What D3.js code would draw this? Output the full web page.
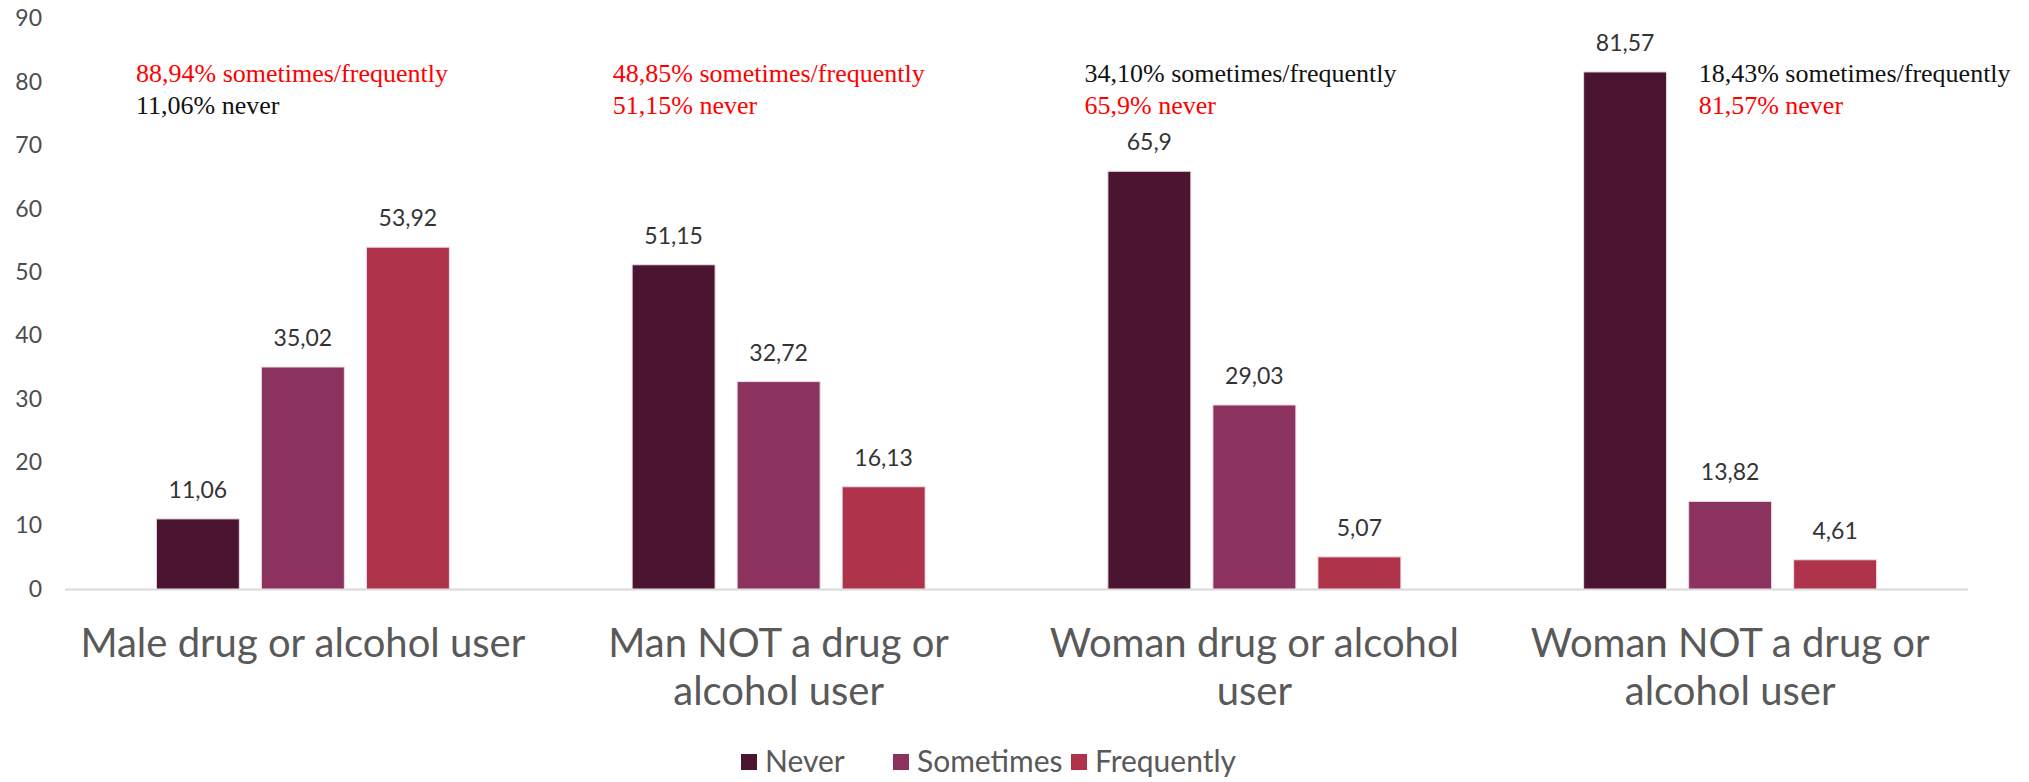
<!DOCTYPE html>
<html><head><meta charset="utf-8">
<script src="https://cdn.jsdelivr.net/npm/d3@7"></script>
<style>
html,body{margin:0;padding:0;background:#fff;}
svg{display:block;}
</style></head>
<body>
<svg id="chart" width="2029" height="782"></svg>
<script>
const categories = [
  ["Male drug or alcohol user"],
  ["Man NOT a drug or", "alcohol user"],
  ["Woman drug or alcohol", "user"],
  ["Woman NOT a drug or", "alcohol user"]
];
const series = ["Never", "Sometimes", "Frequently"];
const never = [11.06, 51.15, 65.9, 81.57];
const sometimes = [35.02, 32.72, 29.03, 13.82];
const frequently = [53.92, 16.13, 5.07, 4.61];
const valueLabels = [
  ["11,06", "35,02", "53,92"],
  ["51,15", "32,72", "16,13"],
  ["65,9", "29,03", "5,07"],
  ["81,57", "13,82", "4,61"]
];
const yTicks = [0, 10, 20, 30, 40, 50, 60, 70, 80, 90];
const notes = [
  [["88,94% sometimes/frequently", "red"], ["11,06% never", "black"]],
  [["48,85% sometimes/frequently", "red"], ["51,15% never", "red"]],
  [["34,10% sometimes/frequently", "black"], ["65,9% never", "red"]],
  [["18,43% sometimes/frequently", "black"], ["81,57% never", "red"]]
];
const colors = ["#4b1531", "#8c325f", "#af344b"];

(function () {
const svg = d3.select("#chart");
const mLeft = 65, mRight = 1968, base = 589, mTop = 18.5;
const groups = categories.map((c, i) => i);
const x0 = d3.scaleBand().domain(groups).range([mLeft, mRight]).paddingInner(0).paddingOuter(0);
const bw = x0.bandwidth();
const inner = 293;
const x1 = d3.scaleBand().domain(series).range([(bw - inner) / 2, (bw + inner) / 2]).paddingInner(0.21).paddingOuter(0);
const y = d3.scaleLinear().domain([0, 90]).range([base, mTop]);
const color = d3.scaleOrdinal().domain(series).range(colors);

const seriesVals = [never, sometimes, frequently];
const rows = [];
groups.forEach(g => series.forEach((s, k) => rows.push({g, s, k, v: seriesVals[k][g], label: valueLabels[g][k]})));

// y axis
const yAxis = d3.axisLeft(y).tickValues(yTicks).tickSize(0).tickPadding(23).tickFormat(d3.format("d"));
const ya = svg.append("g").attr("transform", `translate(${mLeft},0)`).call(yAxis);
ya.select(".domain").remove();
ya.selectAll("text").attr("font-family", "Lato, 'Open Sans', sans-serif").attr("font-size", 23).attr("fill", "#4d4d4d");

// baseline
svg.append("line").attr("x1", mLeft).attr("x2", mRight).attr("y1", base + 0.5).attr("y2", base + 0.5)
  .attr("stroke", "#d9d9d9").attr("stroke-width", 2);

// bars
svg.append("g").selectAll("rect").data(rows).join("rect")
  .attr("x", d => x0(d.g) + x1(d.s))
  .attr("y", d => y(d.v))
  .attr("width", x1.bandwidth())
  .attr("height", d => base - y(d.v))
  .attr("fill", d => color(d.s))
  .attr("stroke", "#e8dfe3").attr("stroke-width", 1);

// value labels
svg.append("g").selectAll("text").data(rows).join("text")
  .attr("x", d => x0(d.g) + x1(d.s) + x1.bandwidth() / 2)
  .attr("y", d => y(d.v) - 21)
  .attr("text-anchor", "middle")
  .attr("font-family", "Lato, 'Open Sans', sans-serif").attr("font-size", 23)
  .attr("fill", "#333333")
  .text(d => d.label);

// category labels
const cat = svg.append("g").selectAll("text").data(categories).join("text")
  .attr("x", (d, i) => x0(i) + bw / 2)
  .attr("y", 657)
  .attr("text-anchor", "middle")
  .attr("font-family", "Lato, 'Open Sans', sans-serif").attr("font-size", 40)
  .attr("fill", "#595959");
cat.selectAll("tspan").data(d => d).join("tspan")
  .attr("x", function() { return this.parentNode.getAttribute("x"); })
  .attr("dy", (d, j) => j === 0 ? 0 : 48)
  .text(d => d);

// annotations
const noteX = [
  i => x0(i) + 71,
  i => x0(i) + 72,
  i => x0(i) + 68,
  i => x0(i) + x1("Sometimes") + 10
];
notes.forEach((lines, i) => {
  lines.forEach((ln, j) => {
    svg.append("text")
      .attr("x", noteX[i](i))
      .attr("y", 82 + j * 32)
      .attr("font-family", "'Liberation Serif', 'DejaVu Serif', serif").attr("font-size", 26)
      .attr("fill", ln[1] === "red" ? "#ff0000" : "#111111")
      .text(ln[0]);
  });
});

// legend
const legendX = [741, 893, 1071];
const lg = svg.append("g").selectAll("g").data(series).join("g")
  .attr("transform", (d, i) => `translate(${legendX[i]},762)`);
lg.append("rect").attr("x", 0).attr("y", -8).attr("width", 16).attr("height", 16).attr("fill", d => color(d));
lg.append("text").attr("x", 24).attr("y", 10)
  .attr("font-family", "Lato, 'Open Sans', sans-serif").attr("font-size", 30)
  .attr("fill", "#595959").text(d => d);
})();
</script>
</body></html>
